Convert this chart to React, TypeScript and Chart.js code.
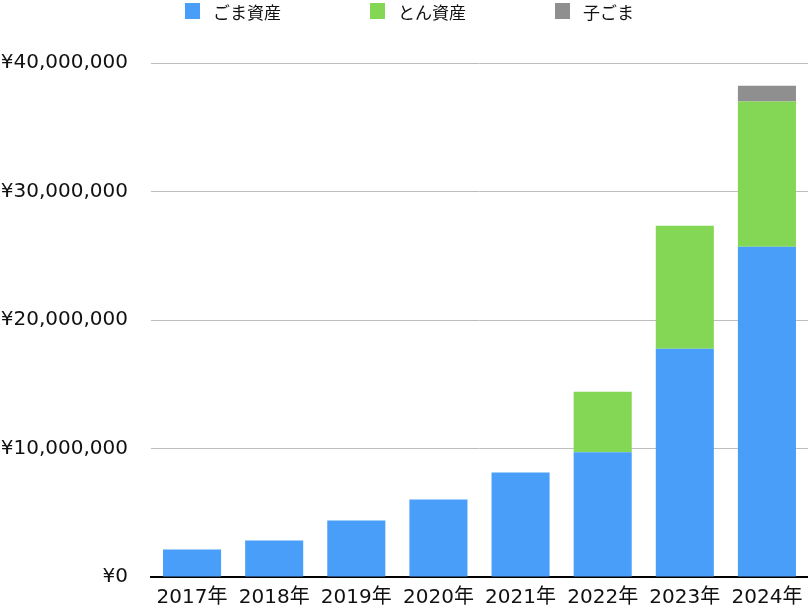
import React, { useEffect, useRef } from "react";
import { Chart, registerables } from "chart.js";

Chart.register(...registerables);

const categories = ["2017年", "2018年", "2019年", "2020年", "2021年", "2022年", "2023年", "2024年"];
const gomaAssets = [2140000, 2840000, 4390000, 6030000, 8130000, 9700000, 17770000, 25700000];
const tonAssets = [0, 0, 0, 0, 0, 4720000, 9560000, 11300000];
const kogoma = [0, 0, 0, 0, 0, 0, 0, 1220000];
const seriesNames = ["ごま資産", "とん資産", "子ごま"];
const seriesColors = ["#489EF8", "#84D655", "#8F8F8F"];
const yTicks = [0, 10000000, 20000000, 30000000, 40000000];

const FONT = '"DejaVu Sans", "Noto Sans CJK JP", sans-serif';

export default function App() {
  const ref = useRef<HTMLCanvasElement | null>(null);

  useEffect(() => {
    if (!ref.current) return;
    const chart = new Chart(ref.current, {
      type: "bar",
      data: {
        labels: categories,
        datasets: [
          { label: seriesNames[0], data: gomaAssets, backgroundColor: seriesColors[0] },
          { label: seriesNames[1], data: tonAssets, backgroundColor: seriesColors[1] },
          { label: seriesNames[2], data: kogoma, backgroundColor: seriesColors[2] },
        ],
      },
      options: {
        responsive: false,
        animation: false,
        layout: { padding: { top: 63, right: 0, bottom: 0, left: 0 } },
        datasets: { bar: { categoryPercentage: 1, barPercentage: 0.707 } },
        plugins: { legend: { display: false }, tooltip: { enabled: false } },
        scales: {
          x: {
            stacked: true,
            grid: { display: false, drawTicks: false },
            border: { display: true, color: "#000000", width: 2 },
            ticks: { color: "#111111", font: { family: FONT, size: 20 }, padding: 9, maxRotation: 0 },
            afterFit: (axis: any) => {
              axis.height = 29;
              axis.paddingLeft = 0;
              axis.paddingRight = 0;
            },
          },
          y: {
            stacked: true,
            min: 0,
            max: 40000000,
            afterBuildTicks: (axis: any) => {
              axis.ticks = yTicks.map((v) => ({ value: v }));
            },
            afterFit: (axis: any) => {
              axis.width = 151;
              axis.paddingTop = 12;
              axis.paddingBottom = 12;
            },
            grid: { color: "#BDBDBD", lineWidth: 1, drawTicks: false },
            border: { display: false },
            ticks: {
              color: "#111111",
              padding: 23,
              font: { family: FONT, size: 20 },
              callback: (v: any) => "¥" + Number(v).toLocaleString("en-US"),
            },
          },
        },
      },
    });
    return () => chart.destroy();
  }, []);

  const legendX = [185, 370, 555];

  return (
    <div style={{ position: "fixed", left: 0, top: 0, width: 808, height: 606, background: "#fff" }}>
      <canvas ref={ref} width={808} height={606} style={{ position: "absolute", left: 0, top: 0 }} />
      {seriesNames.map((name, i) => (
        <div
          key={name}
          style={{
            position: "absolute",
            left: legendX[i],
            top: 2,
            height: 18,
            display: "flex",
            alignItems: "center",
            fontFamily: FONT,
            fontSize: 17,
            color: "#111",
            whiteSpace: "nowrap",
          }}
        >
          <span style={{ display: "inline-block", width: 15, height: 16, background: seriesColors[i], marginRight: 13 }} />
          <span>{name}</span>
        </div>
      ))}
    </div>
  );
}
